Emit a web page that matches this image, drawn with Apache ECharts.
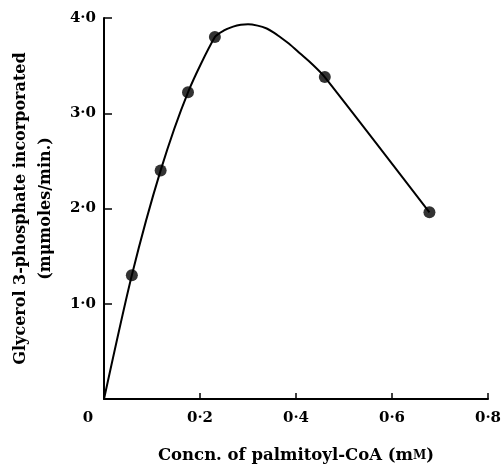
<!DOCTYPE html>
<html>
<head>
<meta charset="utf-8">
<script src="https://cdn.jsdelivr.net/npm/echarts@6/dist/echarts.min.js"></script>
<style>
  html, body { margin: 0; padding: 0; background: #fff; }
  #chart { width: 501px; height: 464px; }
</style>
</head>
<body>
<div id="chart"></div>
<script>
// measured points: concn (mM), rate (mumoles/min)
var concn = [0.058, 0.118, 0.175, 0.231, 0.460, 0.678];
var rate = [1.30, 2.40, 3.22, 3.80, 3.38, 1.96];

// hand-drawn fitted curve
var curveX = [0, 0.058, 0.118, 0.175, 0.231, 0.250, 0.269, 0.285, 0.300, 0.320, 0.339, 0.353, 0.367, 0.388, 0.408, 0.435, 0.460, 0.678];
var curveY = [0, 1.30, 2.40, 3.22, 3.80, 3.87, 3.91, 3.93, 3.935, 3.92, 3.89, 3.85, 3.80, 3.72, 3.63, 3.51, 3.38, 1.96];

var xTicks = ['0', '0·2', '0·4', '0·6', '0·8'];
var yTicks = ['0', '1·0', '2·0', '3·0', '4·0'];

function pairs(xs, ys) {
  return xs.map(function (x, i) { return [x, ys[i]]; });
}

var font = 'DejaVu Serif';
var chart = echarts.init(document.getElementById('chart'));

var option = {
  animation: false,
  grid: { left: 104, right: 13, top: 18, bottom: 65, outerBoundsMode: 'none' },
  xAxis: {
    type: 'value',
    min: 0, max: 0.8, interval: 0.2,
    name: 'Concn. of palmitoyl-CoA (m{sc|M})',
    nameLocation: 'middle',
    nameGap: 48,
    nameTextStyle: {
      color: '#000', fontFamily: font, fontSize: 16.5, fontWeight: 'bold',
      rich: { sc: { fontFamily: font, fontSize: 12, fontWeight: 'bold', color: '#000' } }
    },
    axisLine: { lineStyle: { color: '#000', width: 2 } },
    axisTick: { inside: true, length: 6, lineStyle: { color: '#000', width: 1.5 } },
    splitLine: { show: false },
    axisLabel: {
      color: '#000', fontFamily: font, fontSize: 15, fontWeight: 'bold', margin: 12,
      formatter: function (v) {
        var s = xTicks[Math.round(v / 0.2)];
        return v === 0 ? '{z|' + s + '}' : s;
      },
      rich: { z: { padding: [0, 32, 0, 0], fontFamily: font, fontSize: 15, fontWeight: 'bold', color: '#000' } }
    }
  },
  yAxis: {
    type: 'value',
    min: 0, max: 4, interval: 1,
    name: 'Glycerol 3-phosphate incorporated\n(mμmoles/min.)',
    nameLocation: 'middle',
    nameGap: 46,
    nameRotate: 90,
    nameTextStyle: {
      color: '#000', fontFamily: font, fontSize: 16, fontWeight: 'bold', lineHeight: 25
    },
    axisLine: { show: true, lineStyle: { color: '#000', width: 2 } },
    axisTick: { show: true, inside: true, length: 8, lineStyle: { color: '#000', width: 1.5 } },
    splitLine: { show: false },
    axisLabel: {
      color: '#000', fontFamily: font, fontSize: 15, fontWeight: 'bold', margin: 8,
      showMinLabel: false,
      formatter: function (v) { return yTicks[Math.round(v)]; }
    }
  },
  series: [
    {
      type: 'line',
      data: pairs(curveX, curveY),
      smooth: 0.25,
      showSymbol: false,
      lineStyle: { color: '#000', width: 2 },
      z: 2
    },
    {
      type: 'scatter',
      data: pairs(concn, rate),
      symbolSize: 12,
      itemStyle: { color: '#000' },
      z: 3
    }
  ]
};

chart.setOption(option);
</script>
</body>
</html>
